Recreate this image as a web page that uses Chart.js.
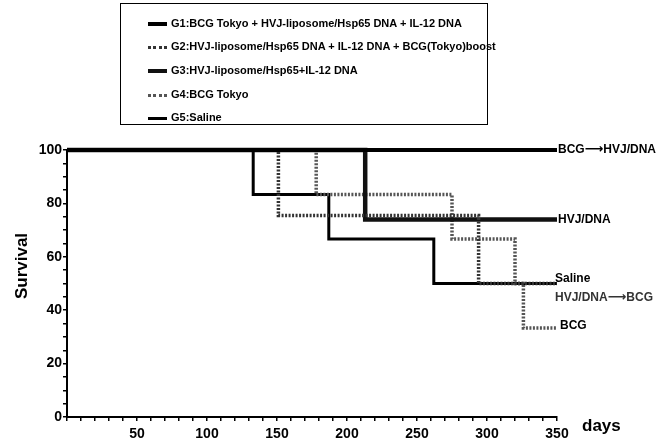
<!DOCTYPE html>
<html>
<head>
<meta charset="utf-8">
<script src="https://cdn.jsdelivr.net/npm/chart.js@4/dist/chart.umd.min.js"></script>
<style>
  html, body { margin: 0; padding: 0; background: #fff; }
  #wrap { position: relative; width: 669px; height: 440px; }
  #legend {
    position: absolute; left: 120px; top: 3px; width: 366px; height: 120px;
    border: 1.5px solid #000; background: #fff; z-index: 2;
    font: bold 11px Arial, "Liberation Sans", sans-serif; color: #000;
  }
  .row { position: absolute; left: 27px; height: 14px; line-height: 14px; white-space: nowrap; }
  .row .sw { display: inline-block; width: 19px; height: 0; vertical-align: middle; margin-right: 4px; }
</style>
</head>
<body>
<div id="wrap">
  <canvas id="km" width="669" height="440"></canvas>
  <div id="legend"></div>
</div>
<script>
// Kaplan-Meier survival (days -> % survival)
const g1Days = [0, 350];
const g1Surv = [100, 100];
const g2Days = [0, 151, 294, 350];
const g2Surv = [100, 75.5, 50, 50];
const g3Days = [0, 213, 350];
const g3Surv = [100, 74, 74];
const g4Days = [0, 178, 275, 320, 326, 350];
const g4Surv = [100, 83.3, 66.7, 50, 33.3, 33.3];
const g5Days = [0, 133, 187, 262, 350];
const g5Surv = [100, 83.3, 66.7, 50, 50];

const legendNames = [
  "G1:BCG Tokyo + HVJ-liposome/Hsp65 DNA + IL-12 DNA",
  "G2:HVJ-liposome/Hsp65 DNA + IL-12 DNA + BCG(Tokyo)boost",
  "G3:HVJ-liposome/Hsp65+IL-12 DNA",
  "G4:BCG Tokyo",
  "G5:Saline",
];
const endLabels = ["BCG\u2192HVJ/DNA", "HVJ/DNA\u2192BCG", "HVJ/DNA", "BCG", "Saline"];

const FONT = 'Arial, "Liberation Sans", sans-serif';
const pts = (xs, ys) => xs.map((x, i) => ({ x, y: ys[i] }));

const styles = [
  { color: "#000", width: 4, dash: [] },
  { color: "#333", width: 3.5, dash: [2, 1.5] },
  { color: "#111", width: 4.5, dash: [] },
  { color: "#555", width: 3.5, dash: [2, 1.5] },
  { color: "#000", width: 3, dash: [] },
];
// label nudges relative to each line's end point
const labelNudge = [[1, 0], [-2, 14], [1, 0], [3, -2], [-2, -5]];

const series = [pts(g1Days, g1Surv), pts(g2Days, g2Surv), pts(g3Days, g3Surv), pts(g4Days, g4Surv), pts(g5Days, g5Surv)];

// legend box
document.getElementById("legend").innerHTML = legendNames.map((name, i) => {
  const s = styles[i];
  const bs = s.dash.length ? "dotted" : "solid";
  return `<div class="row" style="top:${[12, 35, 59, 83, 106][i]}px;"><span class="sw" style="border-top:${Math.round(s.width - 0.5)}px ${bs} ${s.color};"></span>${name}</div>`;
}).join("");

// draw a label, with the arrow glyph taken from DejaVu so it reads as long as in the figure
function drawLabel(ctx, text, x, y) {
  const parts = text.split("\u2192");
  let cx = x;
  parts.forEach((p, k) => {
    ctx.font = `bold 12px ${FONT}`;
    ctx.fillText(p, cx, y);
    cx += ctx.measureText(p).width;
    if (k < parts.length - 1) {
      ctx.font = 'bold 13px "DejaVu Sans"';
      ctx.fillText("\u27F6", cx, y);
      cx += ctx.measureText("\u27F6").width;
    }
  });
}

const extras = {
  id: "extras",
  afterDatasetsDraw(chart) {
    const { ctx, scales: { x, y } } = chart;
    ctx.save();
    ctx.fillStyle = "#000";
    ctx.textBaseline = "middle";
    series.forEach((d, i) => {
      const last = d[d.length - 1];
      ctx.fillStyle = i === 1 ? "#333" : "#000";
      drawLabel(ctx, endLabels[i], x.getPixelForValue(last.x) + labelNudge[i][0], y.getPixelForValue(last.y) + labelNudge[i][1]);
    });
    ctx.fillStyle = "#000";
    ctx.font = `bold 17px ${FONT}`;
    ctx.fillText("days", x.right + 25, 426);
    ctx.translate(22, 266);
    ctx.rotate(-Math.PI / 2);
    ctx.textAlign = "center";
    ctx.fillText("Survival", 0, 0);
    ctx.restore();
  },
};

const tickFont = { family: FONT, weight: "bold", size: 14 };

new Chart(document.getElementById("km"), {
  type: "line",
  data: {
    datasets: series.map((d, i) => ({
      label: legendNames[i], data: d, stepped: true, borderColor: styles[i].color,
      borderWidth: styles[i].width, borderDash: styles[i].dash, pointRadius: 0, fill: false, clip: false,
    })),
  },
  options: {
    responsive: false, animation: false,
    layout: { padding: { top: 150, right: 112, left: 0, bottom: 0 } },
    plugins: { legend: { display: false }, tooltip: { enabled: false } },
    scales: {
      x: {
        type: "linear", min: 0, max: 350,
        afterFit: s => { s.height = 23; },
        border: { color: "#000", width: 2 },
        grid: { drawOnChartArea: false, drawTicks: true, tickLength: 4, color: "#000", lineWidth: 1.5 },
        ticks: { stepSize: 10, autoSkip: false, maxRotation: 0, padding: 5, color: "#000", font: tickFont,
          callback: v => (v % 50 === 0 && v > 0 ? v : "") },
      },
      y: {
        min: 0, max: 100,
        afterFit: s => { s.width = 67; },
        border: { color: "#000", width: 2 },
        grid: { drawOnChartArea: false, drawTicks: true, tickLength: 4, color: "#000", lineWidth: 1.5 },
        ticks: { stepSize: 5, autoSkip: false, padding: 1, color: "#000", font: tickFont,
          callback: v => (v % 20 === 0 ? v : "") },
      },
    },
  },
  plugins: [extras],
});
</script>
</body>
</html>
